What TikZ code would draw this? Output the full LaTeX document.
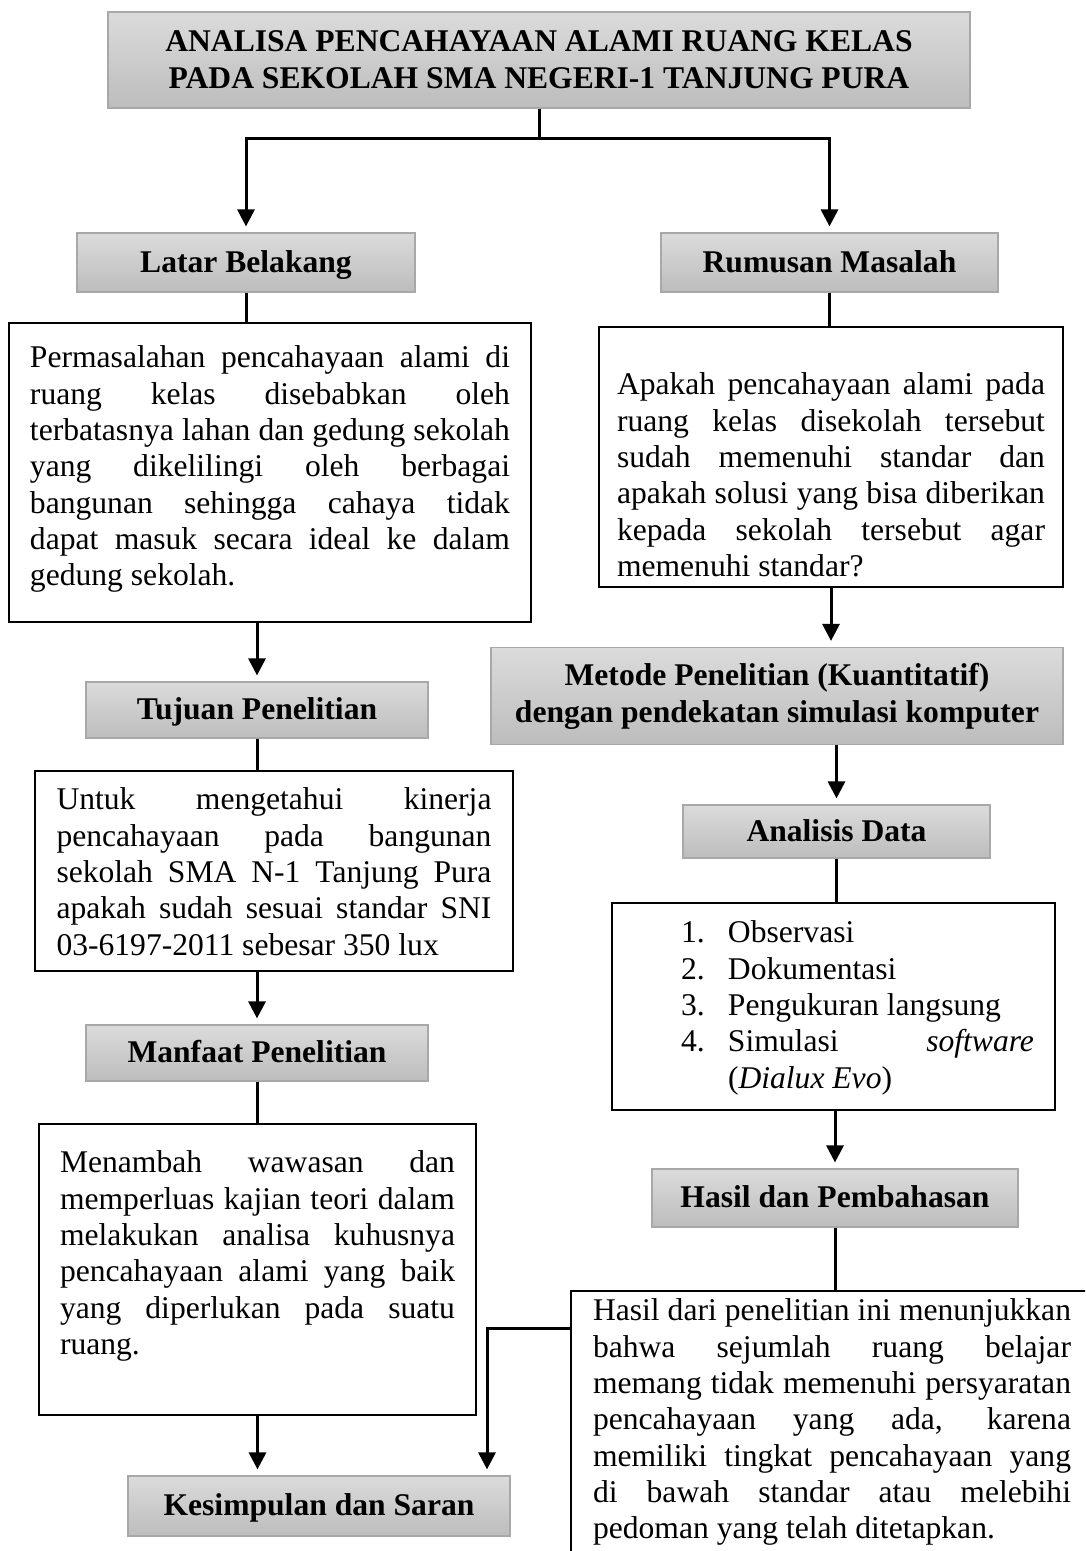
\documentclass[tikz,border=0pt]{standalone}
\usepackage{fontspec}
\setmainfont{Liberation Serif}
\usetikzlibrary{arrows.meta}
\definecolor{HeadTop}{gray}{0.86}
\definecolor{HeadBottom}{gray}{0.74}
\definecolor{HeadLine}{gray}{0.66}
\newcommand{\jline}[1]{\makebox[\linewidth][s]{#1}\\}
\newcommand{\boxpar}[4]{\parbox[c][#1][t]{#2}{\vspace*{#3}#4}}

\begin{document}
\begin{tikzpicture}[x=1pt,y=-1pt,font=\fontsize{31.6}{36.3}\selectfont, every node/.style={align=center},
    head/.style={draw=HeadLine,line width=1.2pt,top color=HeadTop,bottom color=HeadBottom,font=\fontsize{31.6}{37}\selectfont\bfseries},
    headone/.style={head,text height=24pt,text depth=5pt},
    textbox/.style={draw,line width=2pt,anchor=north west,inner xsep=#1,inner ysep=0pt},
    line/.style={line width=3pt},
    arrow/.style={line width=3pt,-{Triangle[length=17pt,width=17pt]},shorten >=6pt}]
      \useasboundingbox (0,0) rectangle (1085,1551);
      \fill[white] (0,0) rectangle (1085,1551);
      \clip (0,0) rectangle (1085,1551);

      \node[head,minimum width=862pt,minimum height=96pt] (judul) at (539,60) {ANALISA PENCAHAYAAN ALAMI RUANG KELAS\\PADA SEKOLAH SMA NEGERI-1 TANJUNG PURA};
      \node[headone,minimum width=338pt,minimum height=59pt] (latar) at (246,262.5) {Latar Belakang};
      \node[headone,minimum width=337pt,minimum height=59pt] (rumusan) at (829.5,262.5) {Rumusan Masalah};

      \node[textbox=21pt] (latartxt) at (8,322) {\boxpar{299pt}{480pt}{23pt}{%
        \jline{Permasalahan pencahayaan alami di}
        \jline{ruang kelas disebabkan oleh}
        \jline{terbatasnya lahan dan gedung sekolah}
        \jline{yang dikelilingi oleh berbagai}
        \jline{bangunan sehingga cahaya tidak}
        \jline{dapat masuk secara ideal ke dalam}
        gedung sekolah.}};
      \node[textbox=18pt] (rumusantxt) at (598,326) {\boxpar{260pt}{428pt}{46pt}{%
        \jline{Apakah pencahayaan alami pada}
        \jline{ruang kelas disekolah tersebut}
        \jline{sudah memenuhi standar dan}
        \jline{apakah solusi yang bisa diberikan}
        \jline{kepada sekolah tersebut agar}
        memenuhi standar?}};

      \node[headone,minimum width=342pt,minimum height=56pt] (tujuan) at (257,710) {Tujuan Penelitian};
      \node[textbox=21.5pt] (tujuantxt) at (34,770) {\boxpar{200pt}{435pt}{17pt}{%
        \jline{Untuk mengetahui kinerja}
        \jline{pencahayaan pada bangunan}
        \jline{sekolah SMA N-1 Tanjung Pura}
        \jline{apakah sudah sesuai standar SNI}
        03-6197-2011 sebesar 350 lux}};
      \node[headone,minimum width=342pt,minimum height=56pt] (manfaat) at (257,1053) {Manfaat Penelitian};
      \node[textbox=21pt] (manfaattxt) at (38,1123) {\boxpar{291pt}{395pt}{27pt}{%
        \jline{Menambah wawasan dan}
        \jline{memperluas kajian teori dalam}
        \jline{melakukan analisa kuhusnya}
        \jline{pencahayaan alami yang baik}
        \jline{yang diperlukan pada suatu}
        ruang.}};
      \node[headone,minimum width=382pt,minimum height=60pt] (kesimpulan) at (319,1506) {Kesimpulan dan Saran};

      \node[head,minimum width=572pt,minimum height=97pt] (metode) at (777,696) {Metode Penelitian (Kuantitatif)\\dengan pendekatan simulasi komputer};
      \node[headone,minimum width=307pt,minimum height=53pt] (analisis) at (836.5,831.5) {Analisis Data};
      \node[textbox=21pt] (analisistxt) at (611,902) {\boxpar{207pt}{401pt}{18pt}{%
        \hspace*{48pt}\makebox[47pt][l]{1.}Observasi\\
        \hspace*{48pt}\makebox[47pt][l]{2.}Dokumentasi\\
        \hspace*{48pt}\makebox[47pt][l]{3.}Pengukuran langsung\\
        \hspace*{48pt}\makebox[47pt][l]{4.}\makebox[306pt]{Simulasi\hfill\textit{software}}\\
        \hspace*{95pt}(\textit{Dialux Evo})}};
      \node[headone,minimum width=366pt,minimum height=58pt] (hasil) at (835,1198) {Hasil dan Pembahasan};
      \node[textbox=22pt] (hasiltxt) at (570,1290) {\boxpar{300pt}{478pt}{8pt}{%
        \jline{Hasil dari penelitian ini menunjukkan}
        \jline{bahwa sejumlah ruang belajar}
        \jline{memang tidak memenuhi persyaratan}
        \jline{pencahayaan yang ada, karena}
        \jline{memiliki tingkat pencahayaan yang}
        \jline{di bawah standar atau melebihi}
        pedoman yang telah ditetapkan.}};

      \coordinate (split) at (539,138);
      \coordinate (bend) at (487,1328);

      \draw[line] (judul.south) -- (split);
      \draw[arrow] (split) -| (latar.north);
      \draw[arrow] (split) -| (rumusan.north);
      \draw[line] (latar.south) -- (latar.south |- latartxt.north);
      \draw[arrow] (tujuan.north |- latartxt.south) -- (tujuan.north);
      \draw[line] (tujuan.south) -- (tujuan.south |- tujuantxt.north);
      \draw[arrow] (manfaat.north |- tujuantxt.south) -- (manfaat.north);
      \draw[line] (manfaat.south) -- (manfaat.south |- manfaattxt.north);
      \draw[arrow] (manfaattxt.south) -- (manfaattxt.south |- kesimpulan.north);
      \draw[line] (rumusan.south) -- (rumusan.south |- rumusantxt.north);
      \draw[arrow] (rumusantxt.south) -- (rumusantxt.south |- metode.north);
      \draw[arrow] (analisis.north |- metode.south) -- (analisis.north);
      \draw[line] (analisis.south) -- (analisis.south |- analisistxt.north);
      \draw[arrow] (hasil.north |- analisistxt.south) -- (hasil.north);
      \draw[line] (hasil.south) -- (hasil.south |- hasiltxt.north);
      \draw[arrow] (hasiltxt.west |- bend) -- (bend) -- (bend |- kesimpulan.north);
    \end{tikzpicture}
\end{document}
